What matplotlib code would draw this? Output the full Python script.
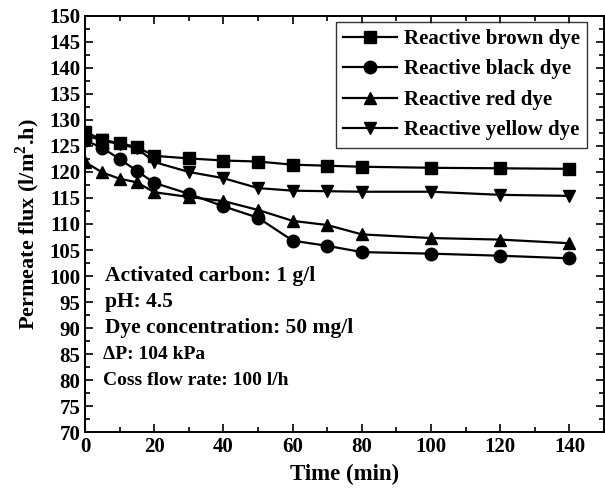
import numpy as np
import matplotlib
matplotlib.use("Agg")
import matplotlib.pyplot as plt
from matplotlib.ticker import MultipleLocator

plt.rcParams['font.family'] = ['Liberation Serif', 'DejaVu Serif']
plt.rcParams['font.weight'] = 'bold'
plt.rcParams['mathtext.fontset'] = 'custom'
plt.rcParams['mathtext.rm'] = 'Liberation Serif:bold'
plt.rcParams['mathtext.bf'] = 'Liberation Serif:bold'

# time (min) and permeate flux for each dye
tiempo = [0, 5, 10, 15, 20, 30, 40, 50, 60, 70, 80, 100, 120, 140]
flujo_marron = [127.7, 126.2, 125.5, 124.8, 123.1, 122.6, 122.2, 122.0, 121.4, 121.2, 121.0, 120.8, 120.7, 120.6]
flujo_negro = [126.1, 124.6, 122.5, 120.2, 117.9, 115.8, 113.4, 111.2, 106.8, 105.8, 104.6, 104.3, 103.9, 103.4]
flujo_rojo = [121.9, 119.9, 118.7, 118.0, 116.1, 115.2, 114.4, 112.7, 110.6, 109.8, 108.0, 107.3, 107.0, 106.3]
flujo_amarillo = [127.0, 126.1, 125.3, 124.6, 121.9, 120.0, 118.8, 116.9, 116.4, 116.3, 116.2, 116.2, 115.6, 115.4]

series = [
    (flujo_marron, 's', 'Reactive brown dye'),
    (flujo_negro, 'o', 'Reactive black dye'),
    (flujo_rojo, '^', 'Reactive red dye'),
    (flujo_amarillo, 'v', 'Reactive yellow dye'),
]

fig = plt.figure(figsize=(6.05, 4.95), dpi=100)
ax = fig.add_axes([0.1405, 0.127, 0.858, 0.841])

for valores, marcador, nombre in series:
    ax.plot(tiempo, valores, color='black', lw=1.6, marker=marcador,
            markersize=9, label=nombre)

ax.set_xlim(0, 150)
ax.set_ylim(70, 150)
ax.xaxis.set_major_locator(MultipleLocator(20))
ax.xaxis.set_minor_locator(MultipleLocator(10))
ax.yaxis.set_major_locator(MultipleLocator(5))
ax.yaxis.set_minor_locator(MultipleLocator(2.5))
ax.set_xticks(np.arange(0, 141, 20))
ax.tick_params(which='both', direction='in', top=True, right=True, labelsize=15, width=1.2)
ax.tick_params(which='major', length=6)
ax.tick_params(which='minor', length=3.5)
for s in ax.spines.values():
    s.set_linewidth(1.4)
for lab in ax.get_xticklabels() + ax.get_yticklabels():
    lab.set_fontweight('bold')

ax.set_xlabel('Time (min)', fontsize=16.5, fontweight='bold', labelpad=5)
ax.set_ylabel('Permeate flux (l/m$^2$.h)', fontsize=16, fontweight='bold', labelpad=5)

leg = ax.legend(loc='upper right', bbox_to_anchor=(0.967, 0.986), fontsize=15,
                frameon=True, fancybox=False, edgecolor='black',
                handlelength=2.6, borderpad=0.35, labelspacing=0.5,
                handletextpad=0.3, borderaxespad=0.0)
leg.get_frame().set_linewidth(1.0)
for t in leg.get_texts():
    t.set_fontweight('bold')

condiciones = [
    (100, 'Activated carbon: 1 g/l', 15.5, 5.8),
    (95, 'pH: 4.5', 15.5, 5.8),
    (90, 'Dye concentration: 50 mg/l', 15.5, 5.8),
    (85, '\u0394P: 104 kPa', 14, 5.2),
    (80, 'Coss flow rate: 100 l/h', 14, 5.2),
]
for y, texto, tam, x0 in condiciones:
    ax.text(x0, y, texto, fontsize=tam, fontweight='bold', va='center')

fig.savefig('out.png', dpi=100)
